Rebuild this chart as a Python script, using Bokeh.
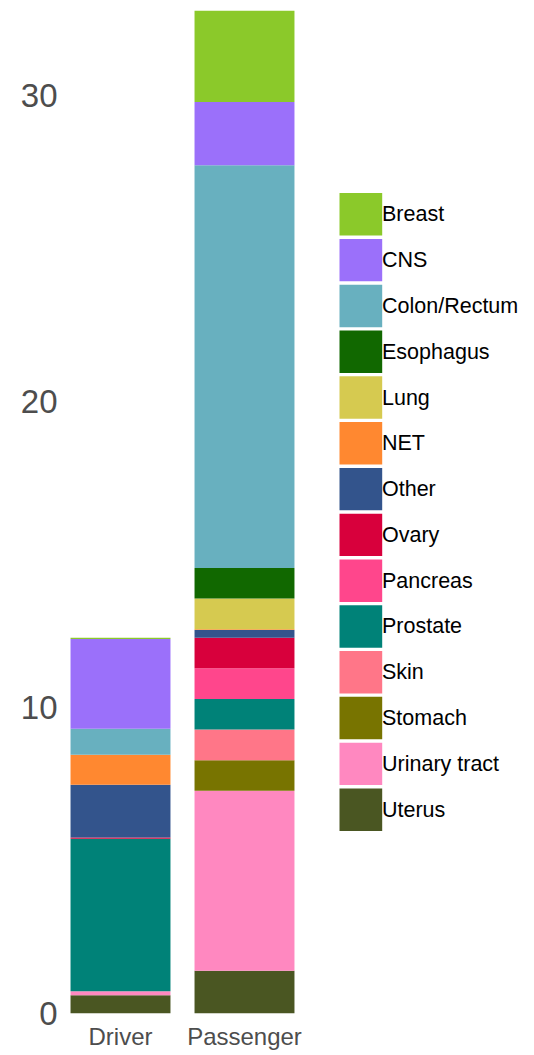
from bokeh.plotting import figure
from bokeh.models import ColumnDataSource, Range1d, FixedTicker
from bokeh.core.properties import value
from bokeh.embed import file_html
from bokeh.resources import INLINE

categories = ["Driver", "Passenger"]
tissues = ["Breast", "CNS", "Colon/Rectum", "Esophagus", "Lung", "NET", "Other",
           "Ovary", "Pancreas", "Prostate", "Skin", "Stomach", "Urinary tract", "Uterus"]
driver = [0.04, 2.93, 0.85, 0.0, 0.0, 0.98, 1.73, 0.04, 0.0, 4.98, 0.0, 0.0, 0.13, 0.60]
passenger = [2.99, 2.07, 13.16, 1.0, 1.0, 0.03, 0.25, 1.0, 1.0, 1.0, 1.0, 1.0, 5.88, 1.40]
colors = ["#8BC92A", "#9B70FA", "#68B0BF", "#116800", "#D6CA50", "#FF8830", "#33548C",
          "#D8003C", "#FF468C", "#008278", "#FF7688", "#787400", "#FF88C0", "#4A5622"]
y_ticks = [0, 10, 20, 30]

# layout constants (pixels)
W, H = 530, 1052
FL, FT, FB = 62, 10, 1014          # frame left / top / bottom on page
BAR_PX = 124                        # px per category step
first_center = 120
key_pitch = 45.84

keys = ["t%d" % i for i in range(len(tissues))]
xpos = list(range(1, len(categories) + 1))
data = {"x": xpos}
for k, d, pv in zip(keys, driver, passenger):
    data[k] = [d, pv]
src = ColumnDataSource(data)
ymax = max(sum(driver), sum(passenger))

p = figure(width=W, height=H,
           x_range=Range1d(1 - (first_center - FL) / BAR_PX, 1 + (W - first_center) / BAR_PX),
           y_range=Range1d(0, ymax),
           output_backend="svg", toolbar_location=None,
           min_border_left=FL, min_border_right=0, min_border_top=FT,
           min_border_bottom=H - FB)
p.outline_line_color = None
p.grid.visible = False
p.background_fill_color = "white"

rev_keys = keys[::-1]
rev_colors = colors[::-1]
p.vbar_stack(stackers=rev_keys, x="x", width=0.806, fill_color=rev_colors,
             line_color=None, source=src)

for ax in (p.xaxis, p.yaxis):
    ax.axis_line_color = None
    ax.major_tick_line_color = None
    ax.minor_tick_line_color = None
    ax.major_tick_out = 0
    ax.major_tick_in = 0
    ax.major_label_text_font = "Liberation Sans"
    ax.major_label_text_color = "#4D4D4D"

p.xaxis.ticker = FixedTicker(ticks=xpos)
p.xaxis.major_label_overrides = {x: c for x, c in zip(xpos, categories)}
p.xaxis.major_label_text_font_size = "24px"
p.xaxis.major_label_standoff = 9

p.yaxis.ticker = FixedTicker(ticks=y_ticks)
p.yaxis.major_label_text_font_size = "33px"
p.yaxis.major_label_standoff = 5

# legend drawn on its own ranges: px across, one slot per tissue down
n = len(tissues)
pad = ((FB - FT) / key_pitch - n) / 2
p.extra_x_ranges = {"leg": Range1d(FL, W)}
p.extra_y_ranges = {"leg": Range1d(-pad, n + pad)}

leg_src = ColumnDataSource({"name": tissues, "color": colors,
                            "slot": [n - i - 0.5 for i in range(n)]})
p.rect(x=360.35, y="slot", width=42.7, height=0.927, fill_color="color", line_color=None,
       source=leg_src, x_range_name="leg", y_range_name="leg")
p.text(x=381.5, y="slot", text="name", text_align="left", text_baseline="middle",
       text_font=value("Liberation Sans"), text_font_size="21.5px", text_color="black",
       source=leg_src, x_range_name="leg", y_range_name="leg")

open("out.html", "w").write(file_html(p, INLINE))
